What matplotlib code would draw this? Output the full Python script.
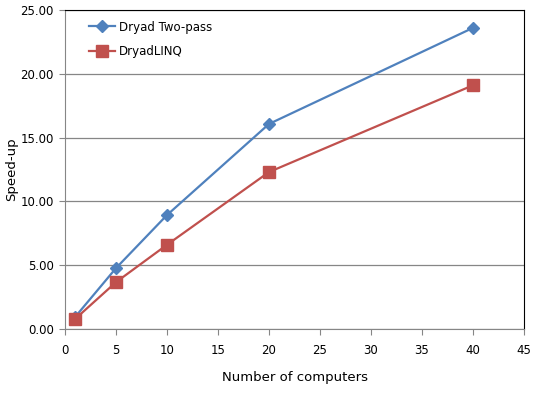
import matplotlib
matplotlib.use('Agg')
import matplotlib.pyplot as plt

computers = [1, 5, 10, 20, 40]
two_pass = [0.95, 4.77, 8.93, 16.07, 23.6]
dryadlinq = [0.79, 3.67, 6.6, 12.3, 19.1]

fig = plt.figure(figsize=(5.34, 3.98), dpi=100)
ax = fig.add_axes([65 / 534, 69 / 398, 459 / 534, 319 / 398])

ax.plot(computers, two_pass, color='#4F81BD', marker='D', markersize=6, linewidth=1.6, label='Dryad Two-pass')
ax.plot(computers, dryadlinq, color='#C0504D', marker='s', markersize=8, linewidth=1.6, label='DryadLINQ')

ax.set_xlim(0, 45)
ax.set_ylim(0, 25)
ax.set_xticks(range(0, 46, 5))
ax.set_yticks(range(0, 26, 5))
ax.set_yticklabels(['%.2f' % v for v in range(0, 26, 5)])
ax.yaxis.grid(True, color='#868686', linewidth=0.9)
ax.set_axisbelow(True)

for s in ['left', 'bottom']:
    ax.spines[s].set_color('#868686')
for s in ['top', 'right']:
    ax.spines[s].set_color('black')
ax.tick_params(direction='out', length=4, color='#868686', labelsize=8.5)
ax.tick_params(axis='y', pad=4)
ax.tick_params(axis='x', pad=7)

ax.set_xlabel('Number of computers', fontsize=9.5, labelpad=10)
ax.set_ylabel('Speed-up', fontsize=9.5)
ax.yaxis.set_label_coords(-0.103, 0.5)

ax.legend(loc='upper left', frameon=False, fontsize=8.5, bbox_to_anchor=(0.03, 1.0),
          handlelength=2.2, handletextpad=0.3, labelspacing=1.0)

fig.savefig('out.png', dpi=100)
